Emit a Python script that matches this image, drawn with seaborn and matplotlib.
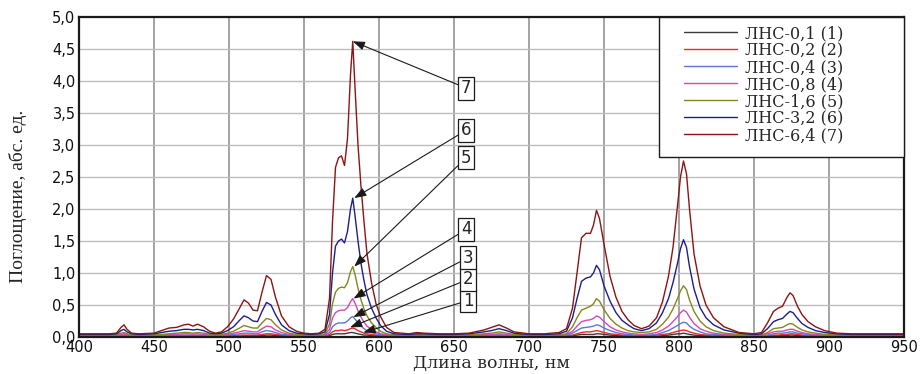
import matplotlib
matplotlib.use("Agg")
import matplotlib.pyplot as plt
import pandas as pd
import seaborn as sns
from matplotlib.ticker import FuncFormatter
from matplotlib.patches import Rectangle

# ---------------- data ----------------
wavelength = [
    400, 410, 420, 425, 428, 430, 432, 435, 440,
    450, 455, 460, 465, 470, 473, 476, 479, 483, 487, 491, 495, 499,
    503, 507, 510, 513, 516, 519, 522, 525, 528, 531, 535, 540, 545, 550, 555, 560,
    564, 567, 569, 571, 573, 575, 577, 579, 581, 582.5, 584, 586, 588, 590, 592, 595, 598, 601, 605, 610,
    620, 625, 630, 640, 650, 660, 670, 675, 680, 685, 690, 700, 710, 720,
    725, 729, 732, 735, 738, 741, 743, 745, 747, 750, 754, 758, 762, 766, 770, 775,
    780, 785, 789, 793, 796, 799, 801, 803, 805, 807, 810, 814, 818, 823, 830, 840, 850,
    855, 859, 863, 866, 869, 872, 874, 876, 879, 882, 886, 891, 897, 905, 915, 930, 950,
]

lns_0_1 = [
    0.01, 0.01, 0.01, 0.01, 0.01, 0.01, 0.01, 0.01, 0.01,
    0.01, 0.01, 0.01, 0.01, 0.01, 0.01, 0.01, 0.01, 0.01, 0.01, 0.01, 0.01, 0.01,
    0.01, 0.01, 0.02, 0.02, 0.02, 0.02, 0.02, 0.03, 0.03, 0.02, 0.02, 0.01, 0.01, 0.01, 0.01, 0.01,
    0.01, 0.02, 0.04, 0.05, 0.05, 0.05, 0.05, 0.06, 0.07, 0.07, 0.06, 0.05, 0.04, 0.03, 0.03, 0.02, 0.02, 0.01, 0.01, 0.01,
    0.01, 0.01, 0.01, 0.01, 0.01, 0.01, 0.01, 0.01, 0.01, 0.01, 0.01, 0.01, 0.01, 0.01,
    0.01, 0.02, 0.03, 0.04, 0.04, 0.04, 0.04, 0.05, 0.05, 0.04, 0.03, 0.02, 0.02, 0.01, 0.01, 0.01,
    0.01, 0.01, 0.02, 0.03, 0.04, 0.05, 0.05, 0.06, 0.05, 0.04, 0.03, 0.02, 0.02, 0.01, 0.01, 0.01, 0.01,
    0.01, 0.01, 0.02, 0.02, 0.02, 0.02, 0.03, 0.03, 0.02, 0.02, 0.01, 0.01, 0.01, 0.01, 0.01, 0.01, 0.01,
]

lns_0_2 = [
    0.02, 0.02, 0.02, 0.02, 0.02, 0.03, 0.02, 0.02, 0.02,
    0.02, 0.02, 0.02, 0.02, 0.02, 0.02, 0.02, 0.02, 0.02, 0.02, 0.02, 0.02, 0.02,
    0.02, 0.03, 0.03, 0.03, 0.03, 0.03, 0.04, 0.05, 0.05, 0.04, 0.03, 0.02, 0.02, 0.02, 0.02, 0.02,
    0.02, 0.04, 0.08, 0.10, 0.10, 0.11, 0.10, 0.11, 0.13, 0.14, 0.13, 0.10, 0.08, 0.06, 0.05, 0.04, 0.03, 0.03, 0.02, 0.02,
    0.02, 0.03, 0.03, 0.02, 0.02, 0.02, 0.02, 0.03, 0.03, 0.03, 0.02, 0.02, 0.02, 0.02,
    0.02, 0.03, 0.05, 0.07, 0.08, 0.08, 0.09, 0.10, 0.09, 0.07, 0.05, 0.04, 0.03, 0.03, 0.02, 0.02,
    0.02, 0.03, 0.04, 0.05, 0.07, 0.09, 0.10, 0.11, 0.10, 0.08, 0.06, 0.04, 0.03, 0.03, 0.02, 0.02, 0.02,
    0.02, 0.02, 0.03, 0.03, 0.04, 0.04, 0.05, 0.05, 0.04, 0.03, 0.03, 0.02, 0.02, 0.02, 0.02, 0.02, 0.02,
]

lns_0_4 = [
    0.02, 0.02, 0.02, 0.02, 0.03, 0.03, 0.03, 0.02, 0.02,
    0.02, 0.02, 0.03, 0.03, 0.03, 0.03, 0.03, 0.03, 0.03, 0.02, 0.02, 0.02, 0.03,
    0.04, 0.05, 0.06, 0.06, 0.05, 0.05, 0.08, 0.10, 0.09, 0.07, 0.04, 0.03, 0.02, 0.02, 0.02, 0.02,
    0.03, 0.07, 0.16, 0.20, 0.22, 0.22, 0.22, 0.25, 0.30, 0.32, 0.28, 0.22, 0.17, 0.13, 0.10, 0.07, 0.05, 0.04, 0.03, 0.02,
    0.02, 0.02, 0.02, 0.02, 0.02, 0.02, 0.03, 0.03, 0.04, 0.03, 0.02, 0.02, 0.02, 0.02,
    0.03, 0.06, 0.10, 0.14, 0.15, 0.16, 0.17, 0.19, 0.18, 0.14, 0.10, 0.07, 0.05, 0.04, 0.03, 0.03,
    0.03, 0.04, 0.07, 0.10, 0.14, 0.18, 0.21, 0.23, 0.22, 0.17, 0.12, 0.08, 0.05, 0.04, 0.03, 0.02, 0.02,
    0.02, 0.03, 0.05, 0.06, 0.06, 0.07, 0.08, 0.08, 0.06, 0.05, 0.04, 0.03, 0.02, 0.02, 0.02, 0.02, 0.02,
]

lns_0_8 = [
    0.03, 0.03, 0.03, 0.03, 0.04, 0.05, 0.04, 0.03, 0.03,
    0.03, 0.03, 0.04, 0.04, 0.05, 0.05, 0.04, 0.05, 0.04, 0.03, 0.03, 0.03, 0.04,
    0.06, 0.08, 0.10, 0.09, 0.08, 0.08, 0.13, 0.17, 0.16, 0.11, 0.07, 0.04, 0.03, 0.03, 0.03, 0.03,
    0.04, 0.12, 0.30, 0.38, 0.41, 0.42, 0.42, 0.46, 0.55, 0.60, 0.53, 0.41, 0.31, 0.23, 0.17, 0.12, 0.08, 0.05, 0.04, 0.03,
    0.03, 0.03, 0.03, 0.03, 0.03, 0.03, 0.04, 0.04, 0.05, 0.04, 0.03, 0.03, 0.03, 0.03,
    0.04, 0.09, 0.17, 0.24, 0.26, 0.27, 0.29, 0.33, 0.31, 0.24, 0.16, 0.11, 0.08, 0.06, 0.05, 0.04,
    0.05, 0.07, 0.11, 0.17, 0.24, 0.32, 0.38, 0.42, 0.39, 0.31, 0.21, 0.13, 0.09, 0.06, 0.04, 0.03, 0.03,
    0.03, 0.05, 0.08, 0.09, 0.09, 0.11, 0.12, 0.12, 0.09, 0.07, 0.05, 0.04, 0.03, 0.03, 0.03, 0.03, 0.03,
]

lns_1_6 = [
    0.03, 0.03, 0.03, 0.04, 0.06, 0.07, 0.05, 0.03, 0.03,
    0.03, 0.04, 0.05, 0.06, 0.07, 0.07, 0.06, 0.07, 0.06, 0.04, 0.03, 0.04, 0.06,
    0.09, 0.14, 0.18, 0.16, 0.14, 0.14, 0.22, 0.29, 0.27, 0.19, 0.11, 0.06, 0.04, 0.03, 0.03, 0.03,
    0.05, 0.20, 0.52, 0.70, 0.76, 0.78, 0.77, 0.85, 1.02, 1.10, 0.98, 0.76, 0.58, 0.44, 0.33, 0.22, 0.15, 0.09, 0.05, 0.03,
    0.03, 0.03, 0.03, 0.03, 0.03, 0.03, 0.05, 0.06, 0.08, 0.06, 0.04, 0.03, 0.03, 0.03,
    0.05, 0.16, 0.30, 0.42, 0.45, 0.48, 0.52, 0.60, 0.56, 0.43, 0.29, 0.20, 0.14, 0.10, 0.08, 0.07,
    0.08, 0.12, 0.20, 0.31, 0.44, 0.60, 0.72, 0.80, 0.74, 0.58, 0.40, 0.25, 0.16, 0.10, 0.06, 0.04, 0.03,
    0.03, 0.07, 0.13, 0.14, 0.15, 0.19, 0.21, 0.20, 0.15, 0.11, 0.08, 0.06, 0.04, 0.03, 0.03, 0.03, 0.03,
]

lns_3_2 = [
    0.04, 0.04, 0.04, 0.05, 0.10, 0.12, 0.08, 0.05, 0.04,
    0.05, 0.07, 0.09, 0.10, 0.12, 0.12, 0.11, 0.12, 0.10, 0.06, 0.05, 0.06, 0.10,
    0.16, 0.26, 0.33, 0.30, 0.25, 0.24, 0.40, 0.54, 0.50, 0.35, 0.19, 0.10, 0.06, 0.05, 0.04, 0.05,
    0.08, 0.35, 1.00, 1.42, 1.50, 1.53, 1.47, 1.65, 2.00, 2.17, 1.90, 1.50, 1.15, 0.88, 0.66, 0.45, 0.30, 0.18, 0.09, 0.05,
    0.04, 0.05, 0.05, 0.04, 0.04, 0.05, 0.08, 0.10, 0.13, 0.10, 0.06, 0.04, 0.04, 0.05,
    0.09, 0.30, 0.60, 0.87, 0.92, 0.94, 1.00, 1.12, 1.05, 0.80, 0.56, 0.38, 0.26, 0.19, 0.13, 0.10,
    0.13, 0.22, 0.38, 0.60, 0.85, 1.15, 1.38, 1.52, 1.40, 1.10, 0.75, 0.46, 0.30, 0.19, 0.11, 0.06, 0.04,
    0.05, 0.13, 0.24, 0.27, 0.29, 0.36, 0.40, 0.38, 0.29, 0.21, 0.15, 0.10, 0.07, 0.05, 0.04, 0.04, 0.04,
]

lns_6_4 = [
    0.05, 0.05, 0.05, 0.06, 0.15, 0.19, 0.12, 0.06, 0.05,
    0.06, 0.10, 0.14, 0.15, 0.19, 0.20, 0.17, 0.20, 0.16, 0.09, 0.06, 0.08, 0.16,
    0.28, 0.45, 0.58, 0.53, 0.42, 0.41, 0.70, 0.96, 0.90, 0.62, 0.33, 0.16, 0.09, 0.06, 0.05, 0.06,
    0.12, 0.60, 1.80, 2.65, 2.80, 2.83, 2.68, 3.10, 4.10, 4.62, 3.90, 3.00, 2.35, 1.80, 1.30, 0.85, 0.52, 0.32, 0.15, 0.07,
    0.05, 0.07, 0.06, 0.05, 0.05, 0.06, 0.11, 0.15, 0.19, 0.14, 0.08, 0.05, 0.05, 0.07,
    0.13, 0.45, 1.00, 1.55, 1.62, 1.62, 1.75, 1.98, 1.85, 1.45, 0.95, 0.62, 0.40, 0.27, 0.18, 0.13,
    0.17, 0.30, 0.55, 0.95, 1.40, 2.05, 2.50, 2.75, 2.55, 2.00, 1.30, 0.80, 0.50, 0.30, 0.16, 0.07, 0.05,
    0.07, 0.22, 0.40, 0.45, 0.48, 0.62, 0.69, 0.65, 0.48, 0.35, 0.24, 0.16, 0.10, 0.06, 0.05, 0.05, 0.05,
]

series_labels = ["ЛНС-0,1 (1)", "ЛНС-0,2 (2)", "ЛНС-0,4 (3)", "ЛНС-0,8 (4)",
                 "ЛНС-1,6 (5)", "ЛНС-3,2 (6)", "ЛНС-6,4 (7)"]
series_values = [lns_0_1, lns_0_2, lns_0_4, lns_0_8, lns_1_6, lns_3_2, lns_6_4]
callout_labels = ["1", "2", "3", "4", "5", "6", "7"]
x_ticks = [400, 450, 500, 550, 600, 650, 700, 750, 800, 850, 900, 950]
y_ticks = [0.0, 0.5, 1.0, 1.5, 2.0, 2.5, 3.0, 3.5, 4.0, 4.5, 5.0]
x_label = "Длина волны, нм"
y_label = "Поглощение, абс. ед."

# ---------------- styling ----------------
series_colors = ["#3c3c3c", "#f02828", "#5a78d8", "#d846b8",
                 "#86861e", "#1e1e8a", "#8c1414"]

frames = []
for lab, vals in zip(series_labels, series_values):
    frames.append(pd.DataFrame({"wl": wavelength, "A": vals, "series": lab}))
df = pd.concat(frames, ignore_index=True)

sns.set_style("white")
plt.rcParams["font.family"] = ["DejaVu Sans"]

fig = plt.figure(figsize=(9.23, 3.74), dpi=100)
ax = fig.add_axes([79 / 923, 1 - 337 / 374, (904 - 79) / 923, (337 - 17) / 374])

sns.lineplot(data=df, x="wl", y="A", hue="series", hue_order=series_labels,
             palette=series_colors, linewidth=1.0, estimator=None, sort=False,
             ax=ax, legend=True)

ax.set_xlim(400, 950)
ax.set_ylim(0, 5)
ax.set_xticks(x_ticks)
ax.set_yticks(y_ticks)
ax.yaxis.set_major_formatter(FuncFormatter(lambda v, p: f"{v:.1f}".replace(".", ",")))
ax.tick_params(axis="both", length=0, labelsize=10.5, colors="#111111", pad=2.5)
for lbl in ax.get_xticklabels() + ax.get_yticklabels():
    lbl.set_family("DejaVu Sans")

ax.grid(False)
for xv in x_ticks[1:-1]:
    ax.axvline(xv, color="#9c9c9c", lw=1.3, zorder=0.5)
for yv in y_ticks[1:-1]:
    ax.axhline(yv, color="#bdbdbd", lw=1.0, zorder=0.5)

for sp in ax.spines.values():
    sp.set_visible(True)
    sp.set_color("#1a1a1a")
    sp.set_linewidth(1.6)

ax.set_xlabel(x_label, family="DejaVu Serif", fontsize=12.5)
ax.xaxis.set_label_coords(0.5, -0.057)
ax.set_ylabel(y_label, family="Liberation Serif", fontsize=14)
ax.yaxis.set_label_coords(-0.063, 0.44)

# legend: frame drawn as a box in the upper-right corner of the axes
x0 = (659 - 79) / 825
y0 = (337 - 157) / 320
ax.add_patch(Rectangle((x0, y0), 1 - x0, 1 - y0, transform=ax.transAxes,
                       facecolor="white", edgecolor="#1a1a1a", lw=1.0,
                       zorder=4, clip_on=False))
handles, labels = ax.get_legend_handles_labels()
leg = ax.legend(handles, labels, loc="upper left",
                bbox_to_anchor=((684 - 79) / 825, (337 - 25) / 320),
                borderaxespad=0.0, borderpad=0.0, frameon=False,
                prop={"family": "DejaVu Serif", "size": 11.5},
                handlelength=3.3, handletextpad=0.5, labelspacing=0.0)
leg.set_zorder(6)
for h in leg.get_lines():
    h.set_linewidth(1.0)

# numbered callouts with arrows
box_pos = {"7": (658.0, 3.89), "6": (658.0, 3.23), "5": (658.0, 2.80),
           "4": (658.0, 1.68), "3": (659.3, 1.24), "2": (659.3, 0.90),
           "1": (659.3, 0.57)}
tip_pos = {"7": (582.5, 4.62), "6": (583.5, 2.17), "5": (583.5, 1.10),
           "4": (583.0, 0.60), "3": (582.9, 0.31), "2": (580.7, 0.15),
           "1": (589.6, 0.07)}
for key in callout_labels:
    ax.annotate(key, xy=tip_pos[key], xytext=box_pos[key],
                ha="center", va="center", fontsize=12, family="DejaVu Sans",
                bbox=dict(boxstyle="square,pad=0.15", fc="white", ec="#1a1a1a", lw=0.9),
                arrowprops=dict(arrowstyle="-|>,head_length=0.6,head_width=0.22",
                                color="#1a1a1a", lw=0.8, shrinkA=0, shrinkB=0),
                zorder=5)

fig.savefig("out.png", dpi=100, facecolor="white")
